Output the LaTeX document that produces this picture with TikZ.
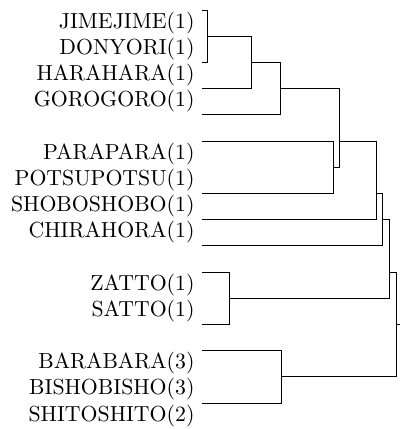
\documentclass[tikz,border=0pt]{standalone}
\usepackage{tikz}

\begin{document}
\begin{tikzpicture}[x=0.5pt, y=-0.5pt, line width=0.45pt]
    \tikzset{leaf/.style={anchor=base east, inner sep=0pt, font=\fontsize{10.9}{13}\selectfont}}
    \useasboundingbox (0,0) rectangle (400,429);
    % word labels, one per row
    \foreach \k/\nm/\lbl in {0/jimejime/JIMEJIME(1), 1/donyori/DONYORI(1), 2/harahara/HARAHARA(1),
        3/gorogoro/GOROGORO(1), 5/parapara/PARAPARA(1), 6/potsupotsu/POTSUPOTSU(1),
        7/shoboshobo/SHOBOSHOBO(1), 8/chirahora/CHIRAHORA(1), 10/zatto/ZATTO(1), 11/satto/SATTO(1),
        13/barabara/BARABARA(3), 14/bishobisho/BISHOBISHO(3), 15/shitoshito/SHITOSHITO(2)} {
      \node[leaf] (\nm) at (195,{28+26.2*\k}) {\lbl};
    }
    % leaf tips
    \foreach \k in {0,2,3,4,5,7,8,9,10,12,13,15}
      \coordinate (t\k) at (202,{10+26.2*\k});
    % merge points
    \foreach \m/\x/\k in {m1/207/1, m2/251/2, m3/280/3, m4/339/5, m5/333/6, m6/376/7,
        m7/382.7/8, m8/389.3/10, m9/229/11, m10/281/14, root/396/12}
      \coordinate (\m) at (\x,{10+26.2*\k});
    \coordinate (rootend) at (400,{10+26.2*12});
    % branches
    \foreach \a/\b in {t0/m1, t2/m1, m1/m2, t3/m2, m2/m3, t4/m3, m3/m4, t5/m5, t7/m5, m5/m4,
        m4/m6, t8/m6, m6/m7, t9/m7, m7/m8, t10/m9, t12/m9, m9/m8, t13/m10, t15/m10, m8/root, m10/root}
      \draw (\a) -| (\b);
    \draw (root) -- (rootend);
  \end{tikzpicture}
\end{document}
